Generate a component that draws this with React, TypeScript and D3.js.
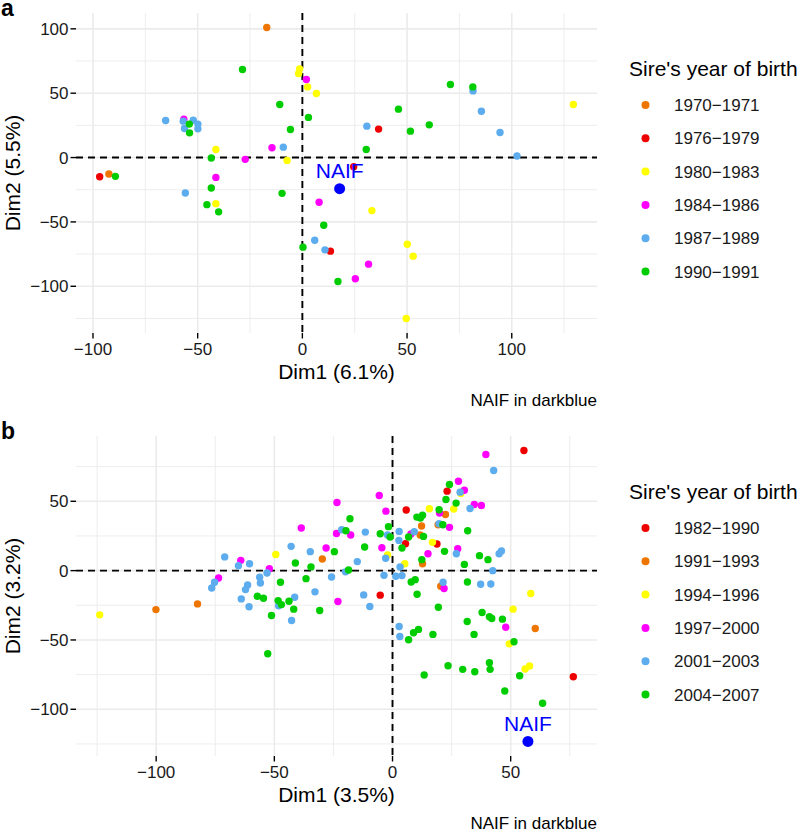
import React from "react";
import * as d3 from "d3";

// ---------- colours ----------
const ORANGE = "#EE7600";
const RED = "#EE0000";
const YELLOW = "#FFFF00";
const MAGENTA = "#FF00FF";
const LIGHTBLUE = "#5CACEE";
const GREEN = "#00CD00";
const NAIF_COLOR = "#0000FF";

// ---------- panel a ----------
const aGroups = ["1970−1971", "1976−1979", "1980−1983", "1984−1986", "1987−1989", "1990−1991"];
const aColors = [ORANGE, RED, YELLOW, MAGENTA, LIGHTBLUE, GREEN];
const a1970: [number, number][] = [[-17, 101], [-92.4, -12.8]];
const a1976: [number, number][] = [[-96.8, -14.9], [36.4, 22.1], [24.5, -7.1], [13.4, -72.7]];
const a1980: [number, number][] = [
  [-1.3, 68.9], [-1.8, 65.3], [2.5, 54.9], [6.7, 49.8], [-7.3, -2.2], [-41.3, 6.3],
  [-41.3, -35.8], [33.2, -41.2], [50.1, -67.3], [52.9, -76.6], [49.6, -125], [129.4, 41.2],
];
const a1984: [number, number][] = [
  [1.9, 60.6], [-14.5, 7.6], [-56.6, 29.8], [-27.3, -1.4], [-41.3, -15.4], [8, -34.7],
  [31.6, -82.8], [25.3, -94.2],
];
const a1987: [number, number][] = [
  [-9.1, 8.1], [-65.3, 28.8], [-56.9, 28.3], [-52.1, 29], [-49.9, 26], [-49.9, 22.3],
  [-56.3, 22.6], [-55.9, -27.5], [5.9, -64.2], [10.8, -71.7], [30.8, 24.4], [81.5, 51.8],
  [85.5, 36], [94.4, 19.5], [102.5, 1.2],
];
const a1990: [number, number][] = [
  [-28.6, 68.4], [-10.8, 41.2], [2.9, 31.2], [-5.7, 21.8], [-54, 26], [-53.9, 19.2],
  [-43.5, -0.4], [-89.3, -14.6], [-43.5, -23.6], [-9.7, -27.8], [-45.6, -36.6], [-40, -42.2],
  [10.2, -52.6], [0.3, -69.6], [17, -96.3], [30.5, 6.3], [45.9, 37.6], [51.6, 20.5],
  [60.6, 25.4], [70.7, 56.7], [81.4, 54.9],
];
const aNaif: [number, number] = [17.8, -24.2];
const aXTicks = [-100, -50, 0, 50, 100];
const aYTicks = [-100, -50, 0, 50, 100];

// ---------- panel b ----------
const bGroups = ["1982−1990", "1991−1993", "1994−1996", "1997−2000", "2001−2003", "2004−2007"];
const bColors = [RED, ORANGE, YELLOW, MAGENTA, LIGHTBLUE, GREEN];
const b1982: [number, number][] = [
  [55.6, 86.6], [23.1, 57.3], [5.8, 43.7], [5.5, 19.4], [18.8, 19.2], [-5.2, -17.7], [76.5, -76.5],
];
const b1991: [number, number][] = [
  [-29.7, 8.4], [-82.5, -24], [-100.1, -28.1], [22.4, 40.5], [12.3, 32.2], [11.7, 25.7],
  [19.3, 33.1], [12.7, 5], [20.4, -11.3], [60.4, -41.7],
];
const b1994: [number, number][] = [
  [-123.9, -31.9], [-49.4, 11.7], [28.9, 55.6], [25.9, 44.4], [15.6, 44.6], [16.9, 20.4],
  [5.2, 5], [-2.1, 11.3], [58.5, -16.5], [51, -27.8], [49.4, -52.8], [56.1, -71], [58, -68.8],
];
const b1997: [number, number][] = [
  [-38.6, 30.7], [-64.2, 7.4], [-52.1, 1.4], [-73.6, -5.3], [39.5, 83.7], [27.9, 64.5],
  [30.4, 58], [34.6, 47.7], [37.6, 47], [19.9, 41.5], [-5.6, 54.2], [-2.8, 42.9],
  [-23.5, 49.1], [-23.7, 26.8], [-17.7, 25.7], [7.8, 26.4], [24.1, 31.2], [27.6, 15.8],
  [15, 12.2], [-4.5, 16.5], [-28.1, 16.3], [-23.1, -22.3], [21.8, -12.9], [47.9, -40.8],
];
const b2001: [number, number][] = [
  [-42.9, 17.5], [-34.8, 13.7], [-71, 9.9], [-65.2, 3.6], [-60.5, 5], [-53.1, -1.7],
  [-56.2, -4.8], [-55.9, -8.9], [-75.3, -8.4], [-76.5, -12.5], [-61.3, -10.3], [-62.2, -13.7],
  [-32.8, -15.3], [-64, -20.4], [-60.7, -26.1], [-48.2, -25.4], [-41.4, -19.2], [-42.7, -36],
  [42.8, 72.2], [28.6, 56.6], [32.8, 44.8], [-21.5, 29.5], [-11.5, 27.8], [-2.1, 25.7],
  [2.8, 28.3], [2.7, 21.8], [9.2, 28.1], [19.7, 33.8], [27, 12.2], [-2.9, 8.9],
  [-14.9, 6.5], [-19.9, -0.9], [-25.8, -4.6], [-12.2, -17.5], [-9.6, -25.9], [-3.6, -3.4],
  [1.4, -4.1], [4, -3.6], [3.2, 2.6], [21.4, -8.4], [45.1, 12.2], [46.1, 14.2],
  [42.4, 0], [37.3, -9.8], [41.6, -9.6], [2.8, -40.3], [3.1, -47.5],
];
const b2004: [number, number][] = [
  [-41.1, 5.5], [-34.5, 2.7], [-47.4, -8.4], [-36.6, -5.8], [-57.2, -18.5], [-54.6, -19.9],
  [-48.4, -21.6], [-47, -24.5], [-43.8, -22.1], [-41.8, -27.8], [-51.2, -32.4], [-30.8, -28.8],
  [-52.8, -60], [24.1, 62.1], [22.6, 51.3], [26.9, 48.7], [19.7, 43.9], [10.3, 38.6],
  [12.7, 40], [11.8, 37.9], [-18, 37.4], [-19.7, 28.8], [-5.2, 26.6], [-1.7, 31.7],
  [-1, 24.2], [6.8, 24.2], [13.1, 24.7], [4, 16.3], [21.3, 33.1], [31.8, 28.8],
  [22, 13.9], [12.4, 7.9], [-11.8, 17], [-18.6, 0.5], [-24.6, 13.7], [7.9, -8.2],
  [9.6, -6.5], [10.4, -17], [19.4, -26.4], [30.4, 4.5], [31.7, -8.2], [36.8, 10.8],
  [40.4, 7.9], [37.9, -30.2], [41, -33.3], [42, -34.5], [46.5, -35], [31.6, -36.7],
  [8.9, -44.8], [11, -42.4], [6.8, -49.9], [17.1, -46], [34.5, -46], [51.4, -51.3],
  [23.5, -68.6], [29.7, -71.2], [34.8, -72.9], [41, -66.4], [41.3, -71.2], [13.4, -75.3],
  [53.8, -75.8], [47.5, -86.8], [63.5, -95.7],
];
const bNaif: [number, number] = [57.3, -123.2];
const bXTicks = [-100, -50, 0, 50];
const bYTicks = [-100, -50, 0, 50];

const FONT = "'Liberation Sans', Arial, Helvetica, sans-serif";

type PanelProps = {
  top: number;
  letter: string;
  groups: string[];
  colors: string[];
  series: [number, number][][];
  naif: [number, number];
  xLabel: string;
  yLabel: string;
  xTicks: number[];
  yTicks: number[];
};

const fmt = (v: number) => (v < 0 ? "\u2212" + Math.abs(v) : String(v));

function Panel({ top, letter, groups, colors, series, naif, xLabel, yLabel, xTicks, yTicks }: PanelProps) {
  const left = 76;
  const right = 597;
  const pTop = top + 13;
  const pBottom = top + 333;
  const all = series.flat().concat([naif]);
  const [x0, x1] = d3.extent(all, (d) => d[0]) as [number, number];
  const [y0, y1] = d3.extent(all, (d) => d[1]) as [number, number];
  const xp = (x1 - x0) * 0.05;
  const yp = (y1 - y0) * 0.05;
  const x = d3.scaleLinear().domain([x0 - xp, x1 + xp]).range([left, right]);
  const y = d3.scaleLinear().domain([y0 - yp, y1 + yp]).range([pBottom, pTop]);
  const inX = (v: number) => v >= x.domain()[0] && v <= x.domain()[1];
  const inY = (v: number) => v >= y.domain()[0] && v <= y.domain()[1];
  const step = xTicks[1] - xTicks[0];
  const xMinor = [xTicks[0] - step / 2, ...xTicks.map((t) => t + step / 2)].filter(inX);
  const yMinor = [yTicks[0] - step / 2, ...yTicks.map((t) => t + step / 2)].filter(inY);
  const legendTop = top + 76;

  return (
    <g>
      <text x={1} y={top + 16} fontSize={23} fontWeight="bold" fontFamily={FONT}>{letter}</text>
      {/* minor grid */}
      {xMinor.map((v) => (
        <line key={"xm" + v} x1={x(v)} x2={x(v)} y1={pTop} y2={pBottom} stroke="#EBEBEB" strokeWidth={0.9} />
      ))}
      {yMinor.map((v) => (
        <line key={"ym" + v} x1={left} x2={right} y1={y(v)} y2={y(v)} stroke="#EBEBEB" strokeWidth={0.9} />
      ))}
      {/* major grid */}
      {xTicks.map((v) => (
        <line key={"xg" + v} x1={x(v)} x2={x(v)} y1={pTop} y2={pBottom} stroke="#EBEBEB" strokeWidth={1.6} />
      ))}
      {yTicks.map((v) => (
        <line key={"yg" + v} x1={left} x2={right} y1={y(v)} y2={y(v)} stroke="#EBEBEB" strokeWidth={1.6} />
      ))}
      {/* reference lines */}
      <line x1={x(0)} x2={x(0)} y1={pTop} y2={pBottom} stroke="#000" strokeWidth={1.9} strokeDasharray="7,5" />
      <line x1={left} x2={right} y1={y(0)} y2={y(0)} stroke="#000" strokeWidth={1.9} strokeDasharray="7,5" />
      {/* points */}
      {series.map((s, gi) =>
        s.map((d, i) => <circle key={gi + "-" + i} cx={x(d[0])} cy={y(d[1])} r={3.7} fill={colors[gi]} />)
      )}
      <circle cx={x(naif[0])} cy={y(naif[1])} r={5.5} fill={NAIF_COLOR} />
      <text x={x(naif[0])} y={y(naif[1]) - 10.7} textAnchor="middle" fontSize={21} fill={NAIF_COLOR} fontFamily={FONT}>
        NAIF
      </text>
      {/* axes ticks */}
      {xTicks.map((v) => (
        <g key={"xt" + v}>
          <line x1={x(v)} x2={x(v)} y1={pBottom} y2={pBottom + 5.5} stroke="#000" strokeWidth={1.4} />
          <text x={x(v)} y={pBottom + 22} textAnchor="middle" fontSize={17} fill="#1A1A1A" fontFamily={FONT}>
            {fmt(v)}
          </text>
        </g>
      ))}
      {yTicks.map((v) => (
        <g key={"yt" + v}>
          <line x1={left - 5.5} x2={left} y1={y(v)} y2={y(v)} stroke="#000" strokeWidth={1.4} />
          <text x={68.5} y={y(v) + 6} textAnchor="end" fontSize={17} fill="#1A1A1A" fontFamily={FONT}>
            {fmt(v)}
          </text>
        </g>
      ))}
      <text x={(left + right) / 2} y={pBottom + 46} textAnchor="middle" fontSize={21} fontFamily={FONT}>
        {xLabel}
      </text>
      <text
        transform={`translate(20,${(pTop + pBottom) / 2}) rotate(-90)`}
        textAnchor="middle"
        fontSize={21}
        fontFamily={FONT}
      >
        {yLabel}
      </text>
      <text x={right} y={pBottom + 73} textAnchor="end" fontSize={17} fontFamily={FONT}>
        NAIF in darkblue
      </text>
      {/* legend */}
      <text x={629} y={legendTop} fontSize={21} fontFamily={FONT}>Sire's year of birth</text>
      {groups.map((g, i) => (
        <g key={"lg" + g}>
          <circle cx={645.5} cy={legendTop + 29 + i * 33.3} r={4} fill={colors[i]} />
          <text x={674} y={legendTop + 29 + i * 33.3 + 6} fontSize={17} fill="#1A1A1A" fontFamily={FONT}>
            {g}
          </text>
        </g>
      ))}
    </g>
  );
}

export default function App() {
  return (
    <svg
      width={797}
      height={831}
      style={{ position: "absolute", left: 0, top: 0, background: "#fff" }}
    >
      <rect width={797} height={831} fill="#fff" />
      <Panel
        top={0}
        letter="a"
        groups={aGroups}
        colors={aColors}
        series={[a1970, a1976, a1980, a1984, a1987, a1990]}
        naif={aNaif}
        xLabel="Dim1 (6.1%)"
        yLabel="Dim2 (5.5%)"
        xTicks={aXTicks}
        yTicks={aYTicks}
      />
      <Panel
        top={423}
        letter="b"
        groups={bGroups}
        colors={bColors}
        series={[b1982, b1991, b1994, b1997, b2001, b2004]}
        naif={bNaif}
        xLabel="Dim1 (3.5%)"
        yLabel="Dim2 (3.2%)"
        xTicks={bXTicks}
        yTicks={bYTicks}
      />
    </svg>
  );
}
